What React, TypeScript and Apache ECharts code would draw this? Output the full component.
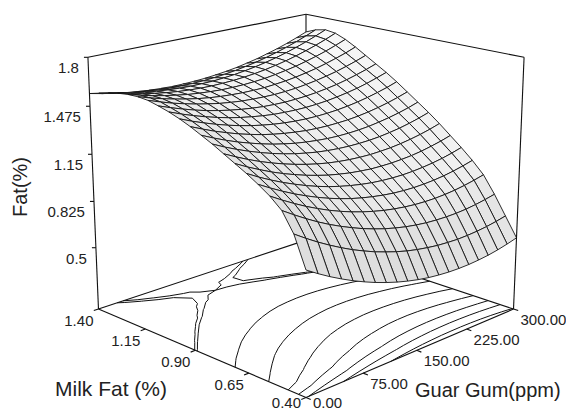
import { useEffect, useRef } from "react";
import * as echarts from "echarts";

// factor levels of the response-surface grid
const MILK_FAT = [1.4, 1.35, 1.3, 1.25, 1.2, 1.15, 1.1, 1.05, 1.0, 0.95, 0.9, 0.85, 0.8, 0.75, 0.7, 0.65, 0.6, 0.55, 0.5, 0.45, 0.4];
const GUAR_GUM = [0, 15, 30, 45, 60, 75, 90, 105, 120, 135, 150, 165, 180, 195, 210, 225, 240, 255, 270, 285, 300];

// Fat (%), one row per milk fat level, along guar gum 0..300
const fatAt140 = [1.560, 1.542, 1.526, 1.513, 1.503, 1.494, 1.489, 1.485, 1.485, 1.487, 1.491, 1.498, 1.507, 1.518, 1.533, 1.549, 1.569, 1.590, 1.614, 1.641, 1.670];
const fatAt135 = [1.580, 1.562, 1.546, 1.533, 1.523, 1.515, 1.509, 1.507, 1.506, 1.508, 1.513, 1.520, 1.530, 1.543, 1.557, 1.575, 1.595, 1.617, 1.642, 1.670, 1.700];
const fatAt130 = [1.600, 1.581, 1.565, 1.551, 1.540, 1.532, 1.526, 1.522, 1.522, 1.523, 1.528, 1.535, 1.545, 1.557, 1.572, 1.589, 1.609, 1.632, 1.657, 1.685, 1.715];
const fatAt125 = [1.615, 1.594, 1.576, 1.561, 1.548, 1.538, 1.531, 1.526, 1.524, 1.525, 1.528, 1.534, 1.542, 1.553, 1.567, 1.583, 1.602, 1.624, 1.648, 1.675, 1.705];
const fatAt120 = [1.625, 1.602, 1.581, 1.564, 1.549, 1.536, 1.527, 1.520, 1.515, 1.514, 1.515, 1.519, 1.525, 1.535, 1.547, 1.561, 1.579, 1.599, 1.621, 1.647, 1.675];
const fatAt115 = [1.628, 1.602, 1.579, 1.559, 1.541, 1.526, 1.514, 1.505, 1.499, 1.495, 1.494, 1.495, 1.500, 1.507, 1.517, 1.530, 1.545, 1.564, 1.585, 1.608, 1.635];
const fatAt110 = [1.622, 1.594, 1.568, 1.546, 1.526, 1.509, 1.494, 1.483, 1.474, 1.469, 1.466, 1.465, 1.468, 1.473, 1.482, 1.493, 1.507, 1.523, 1.543, 1.565, 1.590];
const fatAt105 = [1.605, 1.575, 1.548, 1.523, 1.501, 1.483, 1.467, 1.454, 1.444, 1.436, 1.432, 1.430, 1.432, 1.436, 1.443, 1.453, 1.465, 1.481, 1.500, 1.521, 1.545];
const fatAt100 = [1.585, 1.553, 1.524, 1.498, 1.475, 1.454, 1.437, 1.423, 1.411, 1.402, 1.397, 1.394, 1.394, 1.397, 1.403, 1.412, 1.424, 1.438, 1.456, 1.477, 1.500];
const fatAt095 = [1.560, 1.526, 1.496, 1.468, 1.443, 1.421, 1.402, 1.386, 1.373, 1.363, 1.356, 1.352, 1.351, 1.353, 1.358, 1.366, 1.377, 1.391, 1.408, 1.427, 1.450];
const fatAt090 = [1.530, 1.495, 1.462, 1.433, 1.406, 1.383, 1.362, 1.345, 1.331, 1.320, 1.311, 1.306, 1.304, 1.305, 1.308, 1.315, 1.325, 1.338, 1.354, 1.373, 1.395];
const fatAt085 = [1.495, 1.458, 1.424, 1.393, 1.366, 1.341, 1.319, 1.301, 1.285, 1.273, 1.264, 1.257, 1.254, 1.254, 1.257, 1.263, 1.273, 1.285, 1.300, 1.318, 1.340];
const fatAt080 = [1.460, 1.421, 1.386, 1.354, 1.325, 1.299, 1.276, 1.256, 1.240, 1.226, 1.216, 1.209, 1.205, 1.204, 1.206, 1.211, 1.220, 1.231, 1.246, 1.264, 1.285];
const fatAt075 = [1.420, 1.380, 1.343, 1.309, 1.279, 1.252, 1.228, 1.207, 1.189, 1.174, 1.163, 1.155, 1.150, 1.148, 1.150, 1.154, 1.162, 1.173, 1.187, 1.204, 1.225];
const fatAt070 = [1.380, 1.338, 1.300, 1.264, 1.232, 1.204, 1.178, 1.156, 1.136, 1.121, 1.108, 1.099, 1.092, 1.090, 1.090, 1.094, 1.100, 1.110, 1.124, 1.140, 1.160];
const fatAt065 = [1.340, 1.296, 1.256, 1.219, 1.186, 1.155, 1.128, 1.104, 1.084, 1.067, 1.053, 1.042, 1.035, 1.031, 1.030, 1.033, 1.039, 1.048, 1.060, 1.076, 1.095];
const fatAt060 = [1.295, 1.250, 1.208, 1.169, 1.134, 1.102, 1.073, 1.048, 1.026, 1.008, 0.993, 0.981, 0.972, 0.967, 0.965, 0.967, 0.972, 0.980, 0.992, 1.007, 1.025];
const fatAt055 = [1.245, 1.198, 1.154, 1.113, 1.076, 1.042, 1.012, 0.985, 0.962, 0.942, 0.925, 0.912, 0.902, 0.895, 0.892, 0.892, 0.896, 0.903, 0.914, 0.928, 0.945];
const fatAt050 = [1.180, 1.130, 1.083, 1.039, 0.999, 0.963, 0.930, 0.900, 0.874, 0.851, 0.832, 0.816, 0.804, 0.795, 0.790, 0.788, 0.789, 0.794, 0.803, 0.815, 0.830];
const fatAt045 = [1.060, 1.009, 0.961, 0.917, 0.876, 0.838, 0.805, 0.774, 0.748, 0.724, 0.704, 0.688, 0.676, 0.666, 0.661, 0.658, 0.660, 0.665, 0.673, 0.685, 0.700];
const fatAt040 = [0.865, 0.816, 0.771, 0.730, 0.692, 0.658, 0.627, 0.600, 0.576, 0.556, 0.539, 0.526, 0.517, 0.511, 0.509, 0.510, 0.515, 0.523, 0.535, 0.551, 0.570];

const FAT = [
  fatAt140, fatAt135, fatAt130, fatAt125, fatAt120, fatAt115, fatAt110,
  fatAt105, fatAt100, fatAt095, fatAt090, fatAt085, fatAt080, fatAt075,
  fatAt070, fatAt065, fatAt060, fatAt055, fatAt050, fatAt045, fatAt040,
];

const FAT_MIN = 0.06;
const FAT_MAX = 1.8;
const FAT_TICKS = [0.5, 0.825, 1.15, 1.475, 1.8];
const MILK_FAT_TICKS = [1.4, 1.15, 0.9, 0.65, 0.4];
const GUAR_GUM_TICKS = [0, 75, 150, 225, 300];
const CONTOUR_LEVELS = [1.532, 1.524, 1.39, 1.256, 1.122, 0.988, 0.854, 0.72, 0.586];

const W = 566;
const H = 412;
const MF_HI = MILK_FAT[0];
const MF_LO = MILK_FAT[MILK_FAT.length - 1];
const GG_LO = GUAR_GUM[0];
const GG_HI = GUAR_GUM[GUAR_GUM.length - 1];

// perspective camera, box seen from the (low milk fat, no guar gum) corner
const CAM = { cx: 306, cy: 186.3, k: 1595, dist: 7.5, sin: 0.3, cos: 0.954, half: 0.62 };
const FONT = "Liberation Sans, Arial, sans-serif";
const INK = "#222";

function toWorld(mf: number, gg: number, fat: number) {
  const u = (MF_HI - mf) / (MF_HI - MF_LO);
  const v = (gg - GG_LO) / (GG_HI - GG_LO);
  const z = -CAM.half + (2 * CAM.half * (fat - FAT_MIN)) / (FAT_MAX - FAT_MIN);
  return { d: u - v, l: u + v - 1, z };
}

function project(mf: number, gg: number, fat: number) {
  const w = toWorld(mf, gg, fat);
  const depth = CAM.dist - w.d * CAM.cos - w.z * CAM.sin;
  return {
    x: CAM.cx + (CAM.k * w.l) / depth,
    y: CAM.cy - (CAM.k * (w.z * CAM.cos - w.d * CAM.sin)) / depth,
    depth,
  };
}

function cellShade(i: number, j: number) {
  const p = (a: number, b: number) => toWorld(MILK_FAT[a], GUAR_GUM[b], FAT[a][b]);
  const A = p(i, j), B = p(i + 1, j), C = p(i + 1, j + 1), D = p(i, j + 1);
  const e1 = [C.d - A.d, C.l - A.l, C.z - A.z];
  const e2 = [D.d - B.d, D.l - B.l, D.z - B.z];
  let n = [e1[1] * e2[2] - e1[2] * e2[1], e1[2] * e2[0] - e1[0] * e2[2], e1[0] * e2[1] - e1[1] * e2[0]];
  if (n[2] < 0) n = n.map((x) => -x);
  const len = Math.hypot(n[0], n[1], n[2]) || 1;
  const light = [0.45, -0.35, 1];
  const ll = Math.hypot(light[0], light[1], light[2]);
  const dot = Math.max(0, (n[0] * light[0] + n[1] * light[1] + n[2] * light[2]) / (len * ll));
  const g = Math.round(Math.min(250, Math.max(222, 196 + 54 * dot)));
  return `rgb(${g},${g},${g})`;
}

function contourSegments() {
  const out: number[][] = [];
  for (const level of CONTOUR_LEVELS) {
    for (let i = 0; i < MILK_FAT.length - 1; i++) {
      for (let j = 0; j < GUAR_GUM.length - 1; j++) {
        const idx = [[i, j], [i + 1, j], [i + 1, j + 1], [i, j + 1]];
        const val = idx.map(([a, b]) => FAT[a][b] - level);
        const cross: number[][] = [];
        for (let e = 0; e < 4; e++) {
          const p = idx[e], q = idx[(e + 1) % 4];
          const va = val[e], vb = val[(e + 1) % 4];
          if (va >= 0 !== vb >= 0) {
            const t = va / (va - vb);
            cross.push([
              MILK_FAT[p[0]] + t * (MILK_FAT[q[0]] - MILK_FAT[p[0]]),
              GUAR_GUM[p[1]] + t * (GUAR_GUM[q[1]] - GUAR_GUM[p[1]]),
            ]);
          }
        }
        let pairs: number[][] = [];
        if (cross.length === 2) pairs = [[0, 1]];
        else if (cross.length === 4) {
          const centre = (val[0] + val[1] + val[2] + val[3]) / 4;
          pairs = centre >= 0 === val[0] >= 0 ? [[0, 1], [2, 3]] : [[3, 0], [1, 2]];
        }
        for (const [a, b] of pairs) {
          const p1 = project(cross[a][0], cross[a][1], FAT_MIN);
          const p2 = project(cross[b][0], cross[b][1], FAT_MIN);
          out.push([p1.x, p1.y, p2.x, p2.y]);
        }
      }
    }
  }
  return out;
}

function edge(a: number[], b: number[]) {
  const p = project(a[0], a[1], a[2]);
  const q = project(b[0], b[1], b[2]);
  return [p.x, p.y, q.x, q.y];
}

const lineItem = (stroke: string, width: number) => (_: any, api: any) => {
  const a = api.coord([api.value(0), api.value(1)]);
  const b = api.coord([api.value(2), api.value(3)]);
  return {
    type: "line",
    shape: { x1: a[0], y1: a[1], x2: b[0], y2: b[1] },
    style: { stroke, lineWidth: width },
  };
};

function buildOption() {
  const Lb = [MF_HI, GG_LO, FAT_MIN], Lt = [MF_HI, GG_LO, FAT_MAX];
  const Fb = [MF_LO, GG_LO, FAT_MIN];
  const Rb = [MF_LO, GG_HI, FAT_MIN], Rt = [MF_LO, GG_HI, FAT_MAX];
  const Bb = [MF_HI, GG_HI, FAT_MIN], Bt = [MF_HI, GG_HI, FAT_MAX];

  const backEdges = [edge(Lb, Bb), edge(Bb, Rb), edge(Bb, Bt)];
  const frontEdges = [edge(Lb, Fb), edge(Fb, Rb), edge(Lb, Lt), edge(Rb, Rt), edge(Lt, Bt), edge(Bt, Rt)];

  const labels: { x: number; y: number; text: string; align: string }[] = [];
  FAT_TICKS.forEach((t) => {
    const p = project(MF_HI, GG_LO, t);
    frontEdges.push([p.x, p.y, p.x - 4, p.y]);
    labels.push({ x: p.x - 9, y: p.y + 10.5, text: String(t), align: "right" });
  });
  MILK_FAT_TICKS.forEach((mf) => {
    const p = project(mf, GG_LO, FAT_MIN);
    const q = project(mf, GG_LO - 6, FAT_MIN);
    frontEdges.push([p.x, p.y, q.x, q.y]);
    labels.push({ x: p.x - 5, y: Math.min(p.y + 11, 402), text: mf.toFixed(2), align: "right" });
  });
  GUAR_GUM_TICKS.forEach((gg) => {
    const p = project(MF_LO, gg, FAT_MIN);
    const q = project(MF_LO - 0.02, gg, FAT_MIN);
    frontEdges.push([p.x, p.y, q.x, q.y]);
    labels.push({ x: p.x + 7, y: Math.min(p.y + 10.5, 402), text: gg.toFixed(2), align: "left" });
  });

  const cells: { value: number[]; depth: number }[] = [];
  for (let i = 0; i < MILK_FAT.length - 1; i++) {
    for (let j = 0; j < GUAR_GUM.length - 1; j++) {
      let depth = 0;
      [[i, j], [i + 1, j], [i + 1, j + 1], [i, j + 1]].forEach(([a, b]) => {
        depth += project(MILK_FAT[a], GUAR_GUM[b], FAT[a][b]).depth / 4;
      });
      cells.push({ value: [i, j], depth });
    }
  }
  cells.sort((a, b) => b.depth - a.depth);

  const segDims = { dimensions: ["x1", "y1", "x2", "y2"], encode: { x: [0, 2], y: [1, 3] } };

  return {
    animation: false,
    backgroundColor: "#fff",
    grid: { left: 0, right: 0, top: 0, bottom: 0 },
    xAxis: { type: "value", min: 0, max: W, show: false },
    yAxis: { type: "value", min: 0, max: H, inverse: true, show: false },
    graphic: [
      {
        type: "text",
        x: 20,
        y: 187,
        rotation: Math.PI / 2,
        style: { text: "Fat(%)", fill: INK, font: `20px ${FONT}`, align: "center", verticalAlign: "middle", textAlign: "center", textVerticalAlign: "middle" },
      },
      {
        type: "text",
        x: 55,
        y: 388,
        style: { text: "Milk Fat (%)", fill: INK, font: `21px ${FONT}`, align: "left", verticalAlign: "middle", textAlign: "left", textVerticalAlign: "middle" },
      },
      {
        type: "text",
        x: 415,
        y: 390,
        style: { text: "Guar Gum(ppm)", fill: INK, font: `20px ${FONT}`, align: "left", verticalAlign: "middle", textAlign: "left", textVerticalAlign: "middle" },
      },
    ],
    series: [
      {
        type: "custom",
        name: "contours",
        coordinateSystem: "cartesian2d",
        z: 1,
        silent: true,
        clip: false,
        ...segDims,
        data: contourSegments(),
        renderItem: lineItem("#111", 1),
      },
      {
        type: "custom",
        name: "back box",
        coordinateSystem: "cartesian2d",
        z: 1,
        silent: true,
        clip: false,
        ...segDims,
        data: backEdges,
        renderItem: lineItem("#111", 1.1),
      },
      {
        type: "custom",
        name: "Fat",
        coordinateSystem: "cartesian2d",
        z: 2,
        silent: true,
        clip: false,
        data: cells.map((c) => c.value),
        renderItem: (_: any, api: any) => {
          const i = api.value(0);
          const j = api.value(1);
          const points = [[i, j], [i + 1, j], [i + 1, j + 1], [i, j + 1]].map(([a, b]) => {
            const p = project(MILK_FAT[a], GUAR_GUM[b], FAT[a][b]);
            return api.coord([p.x, p.y]);
          });
          return {
            type: "polygon",
            shape: { points },
            style: { fill: cellShade(i, j), stroke: "#151515", lineWidth: 0.9 },
          };
        },
      },
      {
        type: "custom",
        name: "front box",
        coordinateSystem: "cartesian2d",
        z: 3,
        silent: true,
        clip: false,
        ...segDims,
        data: frontEdges,
        renderItem: lineItem("#111", 1.1),
      },
      {
        type: "custom",
        name: "tick labels",
        coordinateSystem: "cartesian2d",
        z: 3,
        silent: true,
        clip: false,
        data: labels.map((l) => [l.x, l.y]),
        renderItem: (params: any, api: any) => {
          const item = labels[params.dataIndex];
          const pos = api.coord([api.value(0), api.value(1)]);
          return {
            type: "text",
            x: pos[0],
            y: pos[1],
            style: {
              text: item.text,
              fill: INK,
              font: `15px ${FONT}`,
              align: item.align,
              verticalAlign: "middle",
              textAlign: item.align,
              textVerticalAlign: "middle",
            },
          };
        },
      },
    ],
  };
}

export default function App() {
  const chartRef = useRef<HTMLDivElement>(null);

  useEffect(() => {
    if (!chartRef.current) return;
    const chart = echarts.init(chartRef.current, null, { renderer: "svg" });
    chart.setOption(buildOption() as any);
    return () => {
      chart.dispose();
    };
  }, []);

  return (
    <div
      ref={chartRef}
      style={{ position: "fixed", left: 0, top: 0, width: W, height: H, background: "#fff" }}
    />
  );
}
